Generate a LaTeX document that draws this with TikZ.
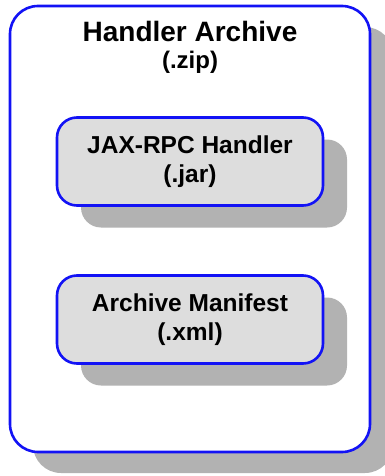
\documentclass[tikz,border=0pt]{standalone}
\usepackage{fontspec}
\newfontfamily\lblfont{Liberation Sans}
\usepackage{tikz}
\usetikzlibrary{shadows}

\definecolor{boxblue}{RGB}{18,18,245}
\definecolor{boxgray}{RGB}{221,221,221}
\definecolor{shadowgray}{RGB}{178,178,178}

\begin{document}
\begin{tikzpicture}[x=1pt,y=-1pt,
    archive/.style={draw=boxblue,line width=2.6pt,fill=white,rounded corners=28pt,
        minimum width=360pt,minimum height=446pt,
        drop shadow={shadow xshift=23pt,shadow yshift=-21pt,fill=shadowgray,opacity=1}},
    part/.style={draw=boxblue,line width=2.6pt,fill=boxgray,rounded corners=20pt,
        minimum width=266pt,minimum height=88pt,align=center,
        font=\lblfont\bfseries\fontsize{24.5}{29}\selectfont,
        drop shadow={shadow xshift=24pt,shadow yshift=-22pt,fill=shadowgray,opacity=1}},
    title/.style={align=center,font=\lblfont\bfseries\fontsize{28}{27}\selectfont}]
    \useasboundingbox (0,0) rectangle (385,476);
    \clip (0,0) rectangle (385,476);
    \node[archive] (zip) at (190,229) {};
    \node[title] (ziplbl) at (190,47) {Handler Archive\\{\fontsize{24}{27}\selectfont(.zip)}};
    \node[part] (jar) at (190,161.5) {JAX-RPC Handler\\(.jar)};
    \node[part] (xml) at (190,319.5) {Archive Manifest\\(.xml)};
\end{tikzpicture}
\end{document}
